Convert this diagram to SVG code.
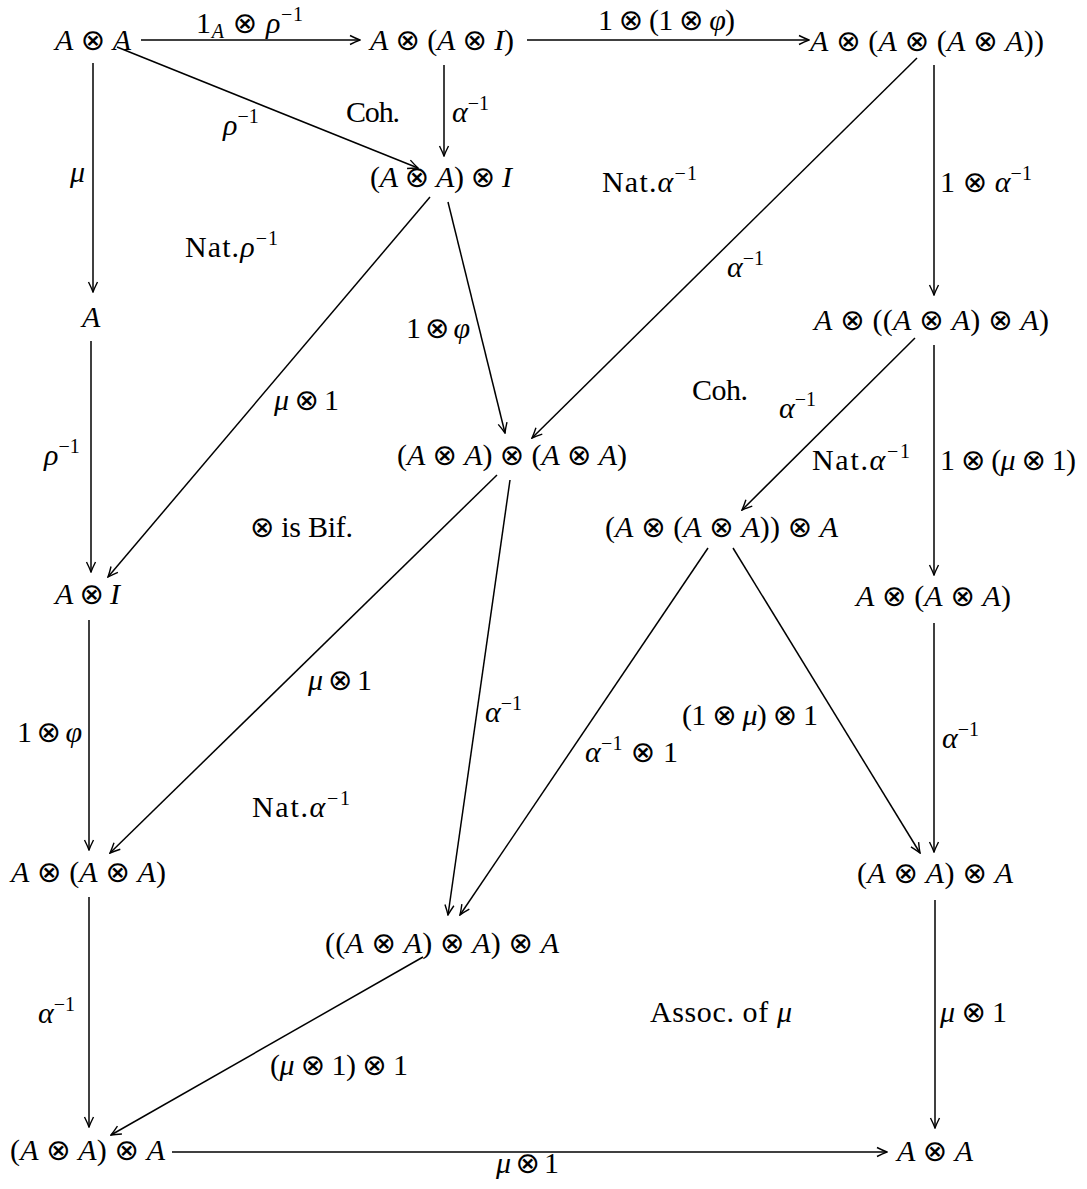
<svg xmlns="http://www.w3.org/2000/svg" width="1087" height="1189" viewBox="0 0 1087 1189">
<style>
text{font-family:"Liberation Serif","DejaVu Serif",serif;font-size:30px;fill:#000}
.i{font-style:italic}
.o{font-family:"DejaVu Sans",sans-serif;font-size:29px;font-style:normal}
.s{font-size:20px}
.e line{stroke:#000;stroke-width:1.5;fill:none;marker-end:url(#ah)}
</style>
<defs>
<marker id="ah" markerWidth="12" markerHeight="12" refX="11" refY="6" orient="auto" markerUnits="userSpaceOnUse" viewBox="0 0 12 12"><path d="M1,1.5 Q7,4.5 11,6 Q7,7.5 1,10.5" fill="none" stroke="#000" stroke-width="1.4"/></marker>
</defs>
<rect width="1087" height="1189" fill="#fff"/>
<g id="edges" class="e">
<line x1="141" y1="40" x2="360" y2="40"/>
<line x1="527" y1="40" x2="809" y2="40"/>
<line x1="117" y1="47" x2="418" y2="168"/>
<line x1="444" y1="65" x2="444" y2="156"/>
<line x1="93" y1="63" x2="93" y2="292"/>
<line x1="917" y1="58" x2="532" y2="438"/>
<line x1="934" y1="65" x2="934" y2="295"/>
<line x1="91" y1="341" x2="91" y2="572"/>
<line x1="430" y1="197" x2="108" y2="577"/>
<line x1="448" y1="202" x2="505" y2="433"/>
<line x1="915" y1="338" x2="742" y2="510"/>
<line x1="934" y1="345" x2="934" y2="575"/>
<line x1="708" y1="548" x2="460" y2="915"/>
<line x1="733" y1="548" x2="920" y2="853"/>
<line x1="497" y1="475" x2="110" y2="853"/>
<line x1="510" y1="480" x2="448" y2="915"/>
<line x1="89" y1="620" x2="89" y2="850"/>
<line x1="934" y1="623" x2="934" y2="852"/>
<line x1="89" y1="897" x2="89" y2="1127"/>
<line x1="423" y1="957" x2="111" y2="1135"/>
<line x1="172" y1="1152" x2="887" y2="1152"/>
<line x1="935" y1="900" x2="935" y2="1128"/>
</g>
<g id="n1"><text x="55" y="50" textLength="76" lengthAdjust="spacing"><tspan class="i">A</tspan> <tspan class="o">⊗</tspan> <tspan class="i">A</tspan></text></g>
<g id="n2"><text x="370" y="50" textLength="144" lengthAdjust="spacing"><tspan class="i">A</tspan> <tspan class="o">⊗</tspan> (<tspan class="i">A</tspan> <tspan class="o">⊗</tspan> <tspan class="i">I</tspan>)</text></g>
<g id="n3"><text x="810" y="51" textLength="234" lengthAdjust="spacing"><tspan class="i">A</tspan> <tspan class="o">⊗</tspan> (<tspan class="i">A</tspan> <tspan class="o">⊗</tspan> (<tspan class="i">A</tspan> <tspan class="o">⊗</tspan> <tspan class="i">A</tspan>))</text></g>
<g id="n4"><text x="370" y="187" textLength="142" lengthAdjust="spacing">(<tspan class="i">A</tspan> <tspan class="o">⊗</tspan> <tspan class="i">A</tspan>) <tspan class="o">⊗</tspan> <tspan class="i">I</tspan></text></g>
<g id="n5"><text x="82" y="327" class="i">A</text></g>
<g id="n6"><text x="814" y="330" textLength="235" lengthAdjust="spacing"><tspan class="i">A</tspan> <tspan class="o">⊗</tspan> ((<tspan class="i">A</tspan> <tspan class="o">⊗</tspan> <tspan class="i">A</tspan>) <tspan class="o">⊗</tspan> <tspan class="i">A</tspan>)</text></g>
<g id="n7"><text x="397" y="465" textLength="230" lengthAdjust="spacing">(<tspan class="i">A</tspan> <tspan class="o">⊗</tspan> <tspan class="i">A</tspan>) <tspan class="o">⊗</tspan> (<tspan class="i">A</tspan> <tspan class="o">⊗</tspan> <tspan class="i">A</tspan>)</text></g>
<g id="n8"><text x="605" y="537" textLength="233" lengthAdjust="spacing">(<tspan class="i">A</tspan> <tspan class="o">⊗</tspan> (<tspan class="i">A</tspan> <tspan class="o">⊗</tspan> <tspan class="i">A</tspan>)) <tspan class="o">⊗</tspan> <tspan class="i">A</tspan></text></g>
<g id="n9"><text x="55" y="604" textLength="65" lengthAdjust="spacing"><tspan class="i">A</tspan> <tspan class="o">⊗</tspan> <tspan class="i">I</tspan></text></g>
<g id="n10"><text x="856" y="606" textLength="155" lengthAdjust="spacing"><tspan class="i">A</tspan> <tspan class="o">⊗</tspan> (<tspan class="i">A</tspan> <tspan class="o">⊗</tspan> <tspan class="i">A</tspan>)</text></g>
<g id="n11"><text x="11" y="882" textLength="155" lengthAdjust="spacing"><tspan class="i">A</tspan> <tspan class="o">⊗</tspan> (<tspan class="i">A</tspan> <tspan class="o">⊗</tspan> <tspan class="i">A</tspan>)</text></g>
<g id="n12"><text x="857" y="883" textLength="156" lengthAdjust="spacing">(<tspan class="i">A</tspan> <tspan class="o">⊗</tspan> <tspan class="i">A</tspan>) <tspan class="o">⊗</tspan> <tspan class="i">A</tspan></text></g>
<g id="n13"><text x="325" y="953" textLength="234" lengthAdjust="spacing">((<tspan class="i">A</tspan> <tspan class="o">⊗</tspan> <tspan class="i">A</tspan>) <tspan class="o">⊗</tspan> <tspan class="i">A</tspan>) <tspan class="o">⊗</tspan> <tspan class="i">A</tspan></text></g>
<g id="n14"><text x="10" y="1160" textLength="155" lengthAdjust="spacing">(<tspan class="i">A</tspan> <tspan class="o">⊗</tspan> <tspan class="i">A</tspan>) <tspan class="o">⊗</tspan> <tspan class="i">A</tspan></text></g>
<g id="n15"><text x="897" y="1161" textLength="76" lengthAdjust="spacing"><tspan class="i">A</tspan> <tspan class="o">⊗</tspan> <tspan class="i">A</tspan></text></g>
<g id="labels">
<text x="196" y="33" textLength="107" lengthAdjust="spacing">1<tspan class="s i" dy="5">A</tspan><tspan dy="-5"> </tspan><tspan class="o">⊗</tspan> <tspan class="i">ρ</tspan><tspan class="s" dy="-12">−1</tspan></text>
<text x="598" y="30" textLength="137" lengthAdjust="spacing">1 <tspan class="o">⊗</tspan> (1 <tspan class="o">⊗</tspan> <tspan class="i">φ</tspan>)</text>
<text x="223" y="135"><tspan class="i">ρ</tspan><tspan class="s" dy="-12">−1</tspan></text>
<text x="346" y="122" textLength="54" lengthAdjust="spacing">Coh.</text>
<text x="452" y="122"><tspan class="i">α</tspan><tspan class="s" dy="-12">−1</tspan></text>
<text x="70" y="182" class="i">μ</text>
<text x="602" y="192" textLength="95" lengthAdjust="spacing">Nat.<tspan class="i">α</tspan><tspan class="s" dy="-12">−1</tspan></text>
<text x="940" y="192" textLength="92" lengthAdjust="spacing">1 <tspan class="o">⊗</tspan> <tspan class="i">α</tspan><tspan class="s" dy="-12">−1</tspan></text>
<text x="185" y="257" textLength="93" lengthAdjust="spacing">Nat.<tspan class="i">ρ</tspan><tspan class="s" dy="-12">−1</tspan></text>
<text x="727" y="277"><tspan class="i">α</tspan><tspan class="s" dy="-12">−1</tspan></text>
<text x="406" y="338" textLength="64" lengthAdjust="spacing">1 <tspan class="o">⊗</tspan> <tspan class="i">φ</tspan></text>
<text x="274" y="410" textLength="65" lengthAdjust="spacing"><tspan class="i">μ</tspan> <tspan class="o">⊗</tspan> 1</text>
<text x="692" y="400" textLength="56" lengthAdjust="spacing">Coh.</text>
<text x="779" y="418"><tspan class="i">α</tspan><tspan class="s" dy="-12">−1</tspan></text>
<text x="44" y="465"><tspan class="i">ρ</tspan><tspan class="s" dy="-12">−1</tspan></text>
<text x="812" y="470" textLength="98" lengthAdjust="spacing">Nat.<tspan class="i">α</tspan><tspan class="s" dy="-12">−1</tspan></text>
<text x="940" y="470" textLength="136" lengthAdjust="spacing">1 <tspan class="o">⊗</tspan> (<tspan class="i">μ</tspan> <tspan class="o">⊗</tspan> 1)</text>
<text x="250" y="537" textLength="103" lengthAdjust="spacing"><tspan class="o">⊗</tspan> is Bif.</text>
<text x="308" y="690" textLength="64" lengthAdjust="spacing"><tspan class="i">μ</tspan> <tspan class="o">⊗</tspan> 1</text>
<text x="485" y="722"><tspan class="i">α</tspan><tspan class="s" dy="-12">−1</tspan></text>
<text x="682" y="725" textLength="136" lengthAdjust="spacing">(1 <tspan class="o">⊗</tspan> <tspan class="i">μ</tspan>) <tspan class="o">⊗</tspan> 1</text>
<text x="585" y="762" textLength="93" lengthAdjust="spacing"><tspan class="i">α</tspan><tspan class="s" dy="-12">−1</tspan><tspan dy="12"> </tspan><tspan class="o">⊗</tspan> 1</text>
<text x="17" y="742" textLength="65" lengthAdjust="spacing">1 <tspan class="o">⊗</tspan> <tspan class="i">φ</tspan></text>
<text x="942" y="748"><tspan class="i">α</tspan><tspan class="s" dy="-12">−1</tspan></text>
<text x="252" y="817" textLength="98" lengthAdjust="spacing">Nat.<tspan class="i">α</tspan><tspan class="s" dy="-12">−1</tspan></text>
<text x="38" y="1023"><tspan class="i">α</tspan><tspan class="s" dy="-12">−1</tspan></text>
<text x="270" y="1075" textLength="138" lengthAdjust="spacing">(<tspan class="i">μ</tspan> <tspan class="o">⊗</tspan> 1) <tspan class="o">⊗</tspan> 1</text>
<text x="650" y="1022" textLength="142" lengthAdjust="spacing">Assoc.  of <tspan class="i">μ</tspan></text>
<text x="940" y="1022" textLength="67" lengthAdjust="spacing"><tspan class="i">μ</tspan> <tspan class="o">⊗</tspan> 1</text>
<text x="496" y="1173" textLength="63" lengthAdjust="spacing"><tspan class="i">μ</tspan> <tspan class="o">⊗</tspan> 1</text>
</g>
</svg>
